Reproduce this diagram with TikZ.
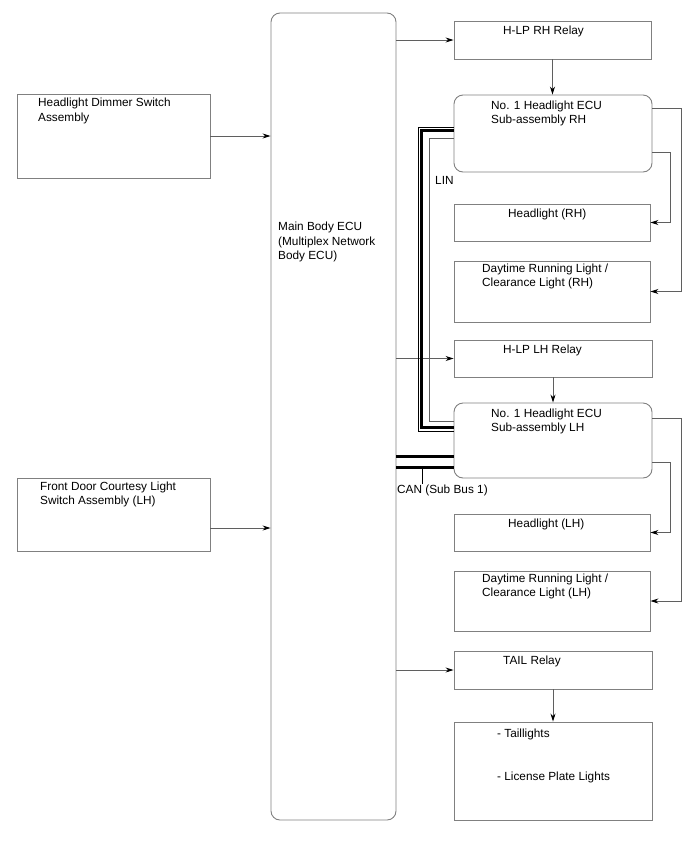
\documentclass[tikz,border=0pt]{standalone}
\usepackage{fontspec}
\setmainfont{Liberation Sans}
\usepackage{xcolor}
\usepackage{tikz}
\usetikzlibrary{arrows.meta}

\definecolor{boxgray}{RGB}{128,128,128}
\definecolor{wiregray}{RGB}{95,95,95}

\begin{document}
\begin{tikzpicture}[x=1pt,y=-1pt,>={Stealth[length=8pt,width=5pt,color=black]},
  box/.style={draw=boxgray,line width=0.9pt,inner sep=0pt},
  rbox/.style={box,rounded corners=9pt},
  lbl/.style={inner sep=0pt,anchor=north west,align=left,font=\fontsize{11.8}{14.5}\selectfont},
  wire/.style={draw=wiregray,line width=0.8pt},
  canbus/.style={line width=3.6pt}]
  \useasboundingbox (0,0) rectangle (688,852);
  % boxes
  \node[rbox,minimum width=125pt,minimum height=807pt] (main) at (333.5,416.5) {};
  \node[box,minimum width=193pt,minimum height=84pt] (dim) at (113.5,136) {};
  \node[box,minimum width=193pt,minimum height=73pt] (door) at (113.5,514.5) {};
  \node[box,minimum width=197pt,minimum height=38pt] (rhrel) at (552.5,40) {};
  \node[rbox,minimum width=198pt,minimum height=77pt] (rhecu) at (553,133.5) {};
  \node[box,minimum width=196pt,minimum height=37pt] (rhhead) at (552,222.5) {};
  \node[box,minimum width=196pt,minimum height=61pt] (rhdrl) at (552,291.5) {};
  \node[box,minimum width=198pt,minimum height=37pt] (lhrel) at (553,358.5) {};
  \node[rbox,minimum width=198pt,minimum height=75pt] (lhecu) at (553,440.5) {};
  \node[box,minimum width=196pt,minimum height=37pt] (lhhead) at (552,532.5) {};
  \node[box,minimum width=196pt,minimum height=60pt] (lhdrl) at (552,601) {};
  \node[box,minimum width=198pt,minimum height=38pt] (tail) at (553,670) {};
  \node[box,minimum width=198pt,minimum height=98pt] (lamps) at (553,771) {};
  % texts
  \node[lbl] (maintxt) at (278,222.1) {Main Body ECU\\(Multiplex Network\\Body ECU)};
  \node[lbl] (dimtxt) at (38,98.1) {Headlight Dimmer Switch\\Assembly};
  \node[lbl] (doortxt) at (40,481.4) {Front Door Courtesy Light\\Switch Assembly (LH)};
  \node[lbl] (rhreltxt) at (503,25.4) {H-LP RH Relay};
  \node[lbl] (rhecutxt) at (491,100.4) {No. 1 Headlight ECU\\Sub-assembly RH};
  \node[lbl] (rhheadtxt) at (508,208.4) {Headlight (RH)};
  \node[lbl] (rhdrltxt) at (482,263.4) {Daytime Running Light /\\Clearance Light (RH)};
  \node[lbl] (lhreltxt) at (503,344.4) {H-LP LH Relay};
  \node[lbl] (lhecutxt) at (491,408.4) {No. 1 Headlight ECU\\Sub-assembly LH};
  \node[lbl] (lhheadtxt) at (508,518.4) {Headlight (LH)};
  \node[lbl] (lhdrltxt) at (482,573.4) {Daytime Running Light /\\Clearance Light (LH)};
  \node[lbl] (tailtxt) at (503,655.4) {TAIL Relay};
  \node[lbl] (lamp1) at (497,729.2) {- Taillights};
  \node[lbl] (lamp2) at (497,771.4) {- License Plate Lights};
  \node[lbl] (lintxt) at (435,176.4) {LIN};
  \node[lbl] (cantxt) at (397,484.4) {CAN (Sub Bus 1)};
  % inputs
  \coordinate (doorout) at ([yshift=-13.5pt]door.east);
  \draw[wire,->] (dim.east) -- (dim.east -| main.west);
  \draw[wire,->] (doorout) -- (doorout -| main.west);
  % outputs
  \draw[wire,->] (main.east |- rhrel.west) -- (rhrel.west);
  \draw[wire,->] (main.east |- lhrel.west) -- (lhrel.west);
  \draw[wire,->] (main.east |- tail.west) -- (tail.west);
  \draw[wire,->] (rhrel.south) -- (rhrel.south |- rhecu.north);
  \draw[wire,->] (lhrel.south) -- (lhrel.south |- lhecu.north);
  \draw[wire,->] (tail.south) -- (tail.south |- lamps.north);
  \draw[wire,->] ([yshift=-14pt]rhecu.north east) -- ++(29,0) |- (rhdrl.east);
  \draw[wire,->] ([yshift=20pt]rhecu.south east) -- ++(18,0) |- (rhhead.east);
  \draw[wire,->] ([yshift=-16pt]lhecu.north east) -- ++(29,0) |- (lhdrl.east);
  \draw[wire,->] ([yshift=16pt]lhecu.south east) -- ++(18,0) |- (lhhead.east);
  % LIN
  \draw[line width=0.9pt] ([yshift=-32.5pt]rhecu.north west) -- ++(-35.5,0) |- ([yshift=-29pt]lhecu.north west);
  \draw[line width=3.4pt] ([yshift=-36pt]rhecu.north west) -- ++(-32,0) |- ([yshift=-25pt]lhecu.north west);
  \draw[wiregray,line width=0.9pt] ([yshift=-44pt]rhecu.north west) -- ++(-24,0) |- ([yshift=-19pt]lhecu.north west);
  % CAN
  \coordinate (canA) at ([yshift=-54pt]lhecu.north west);
  \coordinate (canB) at ([yshift=-65pt]lhecu.north west);
  \draw[canbus] (main.east |- canA) -- (canA);
  \draw[canbus] (main.east |- canB) -- (canB);
  \draw[line width=0.8pt] ([xshift=-31pt]canB) -- ([xshift=-31pt]canB |- cantxt.north);
\end{tikzpicture}
\end{document}
